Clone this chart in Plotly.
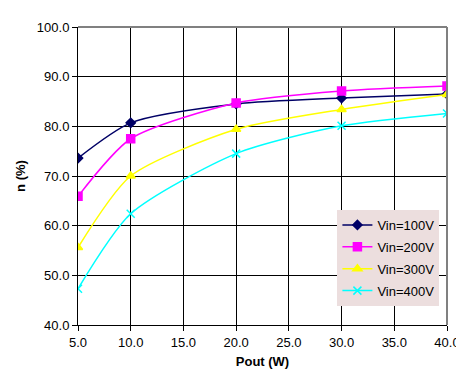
import plotly.graph_objects as go

pout = [5, 10, 20, 30, 40]
vin100 = [73.6, 80.7, 84.5, 85.7, 86.5]
vin200 = [65.9, 77.5, 84.7, 87.1, 88.1]
vin300 = [55.6, 70.0, 79.4, 83.4, 86.4]
vin400 = [47.3, 62.4, 74.5, 80.1, 82.6]

series = [
    ("Vin=100V", vin100, "#000066", "diamond", 7),
    ("Vin=200V", vin200, "#ff00ff", "square", 8),
    ("Vin=300V", vin300, "#ffff00", "triangle-up", 8),
    ("Vin=400V", vin400, "#00ffff", "x-thin-open", 8),
]

fig = go.Figure()
for name, ys, col, sym, sz in series:
    fig.add_trace(go.Scatter(
        x=pout, y=ys, name=name, mode="lines+markers", legendgroup=name,
        line=dict(color=col, width=1.5, shape="spline", smoothing=0.7),
        marker=dict(symbol=sym, size=sz, color=col, line=dict(color=col, width=1.5)),
    ))

font = "Liberation Sans, Arial, sans-serif"
fig.update_layout(
    width=464, height=375,
    margin=dict(l=65, r=18, t=15, b=58),
    paper_bgcolor="white", plot_bgcolor="white",
    font=dict(family=font, size=13, color="black"),
    showlegend=True,
    legend=dict(x=0.703, y=0.386, xanchor="left", yanchor="top",
                bgcolor="#ecdede", borderwidth=0,
                font=dict(size=13, color="black"),
                tracegroupgap=2, itemwidth=30),
    xaxis=dict(range=[5, 40], dtick=5, tick0=5, tickformat=".1f",
               showgrid=True, gridcolor="black", gridwidth=1,
               showline=True, linecolor="black", linewidth=1,
               ticks="outside", ticklen=5, tickcolor="black",
               zeroline=False,
               title=dict(text="<b>Pout (W)</b>", font=dict(size=13), standoff=8)),
    yaxis=dict(range=[40, 100], dtick=10, tickformat=".1f",
               showgrid=True, gridcolor="black", gridwidth=1,
               showline=True, linecolor="black", linewidth=1,
               ticks="outside", ticklen=5, tickcolor="black",
               zeroline=False,
               title=dict(text="<b>n (%)</b>", font=dict(size=13), standoff=8)),
    shapes=[
        dict(type="line", xref="paper", yref="paper", x0=0, x1=1, y0=1, y1=1,
             line=dict(color="#808080", width=2)),
        dict(type="line", xref="paper", yref="paper", x0=1, x1=1, y0=0, y1=1,
             line=dict(color="#808080", width=2)),
    ],
)

fig.write_html("out.html")
